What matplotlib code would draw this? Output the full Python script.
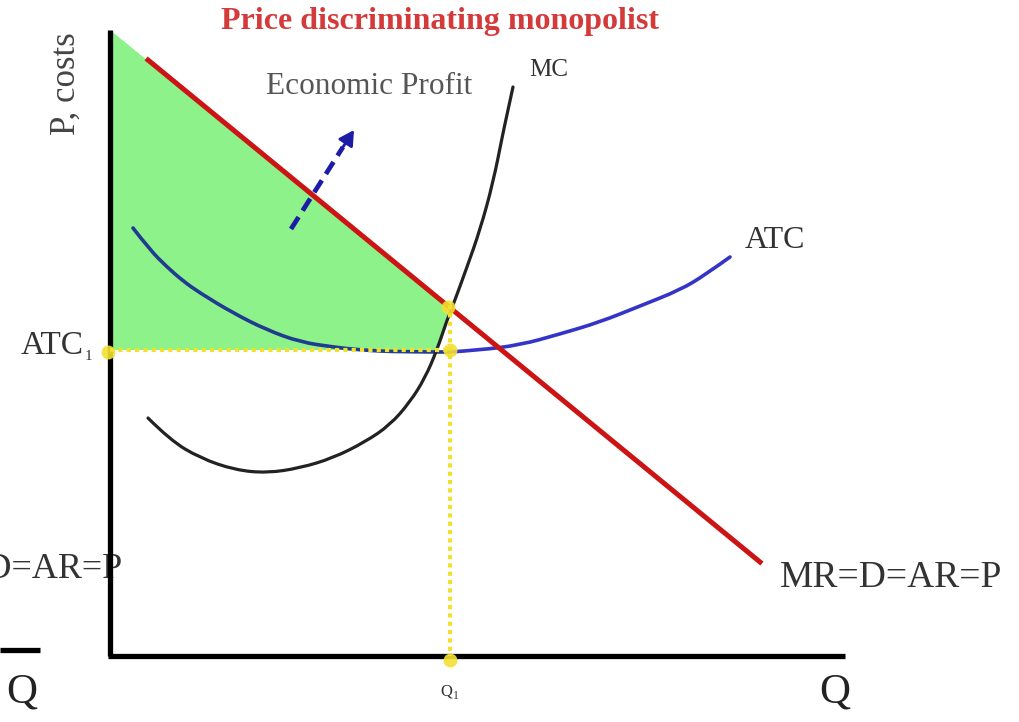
import matplotlib.pyplot as plt
import numpy as np
from matplotlib.path import Path
from matplotlib.patches import PathPatch

# diagram coordinates (x to the right, y downwards)
serif = ['Liberation Serif', 'DejaVu Serif']

# demand / marginal revenue line (MR=D=AR=P)
demand_x = [148, 760]
demand_y = [60, 562]

# marginal cost curve
mc_x = [148, 170, 200, 235, 267, 300, 333, 365, 390, 410, 425, 437, 447, 455, 467, 480, 493, 503, 508, 513]
mc_y = [418, 440, 458, 470, 473, 468, 458, 442, 425, 402, 378, 350, 320, 300, 267, 230, 183, 133, 110, 87]

# average total cost curve
atc_x = [133, 150, 167, 183, 200, 233, 267, 300, 333, 360, 400, 450, 480, 520, 560, 600, 640, 680, 705, 730]
atc_y = [228, 250, 267, 281, 293, 313, 330, 342, 347, 350, 352, 352, 350, 345, 334, 322, 306, 290, 275, 257]

# equilibrium
q1 = 450
p1 = 305
atc1 = 350

# economic profit area (top of axis, along demand, down MC, back along ATC1)
profit_x = [110, 448, 447, 437, 110]
profit_y = [30, 305, 320, 350, 350]

# profit arrow: tail, end of dashes, tip
arrow_x = [291, 343, 354]
arrow_y = [229, 147, 130]


def smooth_curve(ax, xs, ys, **kw):
    # quadratic bezier pieces: read points act as control points
    pts = np.column_stack([xs, ys]).astype(float)
    verts = [pts[0]]
    codes = [Path.MOVETO]
    for i in range(1, len(pts) - 1):
        end = (pts[i] + pts[i + 1]) / 2 if i < len(pts) - 2 else pts[i + 1]
        verts += [pts[i], end]
        codes += [Path.CURVE3, Path.CURVE3]
    ax.add_patch(PathPatch(Path(verts, codes), fill=False, capstyle='round', **kw))


fig = plt.figure(figsize=(10.19, 7.22), dpi=100)
ax = fig.add_axes([0, 0, 1, 1])
ax.set_xlim(0, 1019)
ax.set_ylim(722, 0)
ax.axis('off')

# green profit area
ax.fill(profit_x, profit_y, color='#8ef28a', lw=0, zorder=1)

# axes
ax.plot([110, 110], [30, 656], color='black', lw=3.8, solid_capstyle='butt', zorder=5)
ax.plot([108, 845], [656, 656], color='black', lw=3.8, solid_capstyle='butt', zorder=5)
ax.plot([0, 40], [650, 650], color='black', lw=3.8, solid_capstyle='butt', zorder=5)

# curves
split = atc_x.index(q1)
smooth_curve(ax, atc_x[:split + 1], atc_y[:split + 1], edgecolor='#1f3c90', lw=2.6, zorder=3)
smooth_curve(ax, atc_x[split:], atc_y[split:], edgecolor='#3434c8', lw=2.6, zorder=3)
smooth_curve(ax, mc_x, mc_y, edgecolor='#222222', lw=2.3, zorder=4)
ax.plot(demand_x, demand_y, color='#cc1414', lw=3.6, zorder=4)

# dotted guide lines and points
ax.plot([110, q1], [atc1, atc1], color='#f0e030', lw=3, ls=(0, (1, 1)), zorder=6)
ax.plot([q1, q1], [p1, 656], color='#f0e030', lw=3, ls=(0, (1, 1)), zorder=6)
ax.plot([108, q1, q1 - 2, q1], [352, atc1, p1 + 2, 660], 'o', color='#f2e030',
        ms=10, mec='none', alpha=0.9, zorder=7)

# economic profit arrow: dashed shaft and solid head
ax.plot(arrow_x[:2], arrow_y[:2], color='#1c1ca8', lw=3.4, ls=(0, (3, 1.6)), zorder=8)
ax.annotate('', xy=(arrow_x[2], arrow_y[2]), xytext=(arrow_x[1], arrow_y[1]),
            arrowprops=dict(arrowstyle='-|>,head_length=0.9,head_width=0.5',
                            color='#1c1ca8', lw=2, shrinkA=0, shrinkB=0), zorder=8)

# texts
ax.text(440, 21, 'Price discriminating monopolist', color='#d43a3a', fontsize=23,
        fontweight='bold', family=serif, ha='center', va='center')
ax.text(369, 87, 'Economic Profit', color='#555555', fontsize=22.5, family=serif,
        ha='center', va='center')
ax.text(549, 70, 'MC', color='#333333', fontsize=18, family=serif, ha='center', va='center')
ax.text(66, 84, 'P, costs', color='#444444', fontsize=25, family=serif, rotation=90,
        ha='center', va='center')
ax.text(775, 240, 'ATC', color='#333333', fontsize=23, family=serif, ha='center', va='center')
ax.text(84, 346, 'ATC', color='#333333', fontsize=24, family=serif, ha='right', va='center')
ax.text(85, 357, '1', color='#333333', fontsize=11, family=serif, ha='left', va='center')
ax.text(780, 578, 'MR=D=AR=P', color='#333333', fontsize=27, family=serif, ha='left', va='center')
ax.text(122, 570, 'MR=D=AR=P', color='#333333', fontsize=26, family=serif, ha='right', va='center')
ax.text(q1, 692, r'Q$_\mathregular{1}$', color='#333333', fontsize=12, family=serif,
        ha='center', va='center')
ax.text(835, 692, 'Q', color='#222222', fontsize=31, family=serif, ha='center', va='center')
ax.text(22, 692, 'Q', color='#222222', fontsize=31, family=serif, ha='center', va='center')

fig.savefig('out.png', dpi=100)
